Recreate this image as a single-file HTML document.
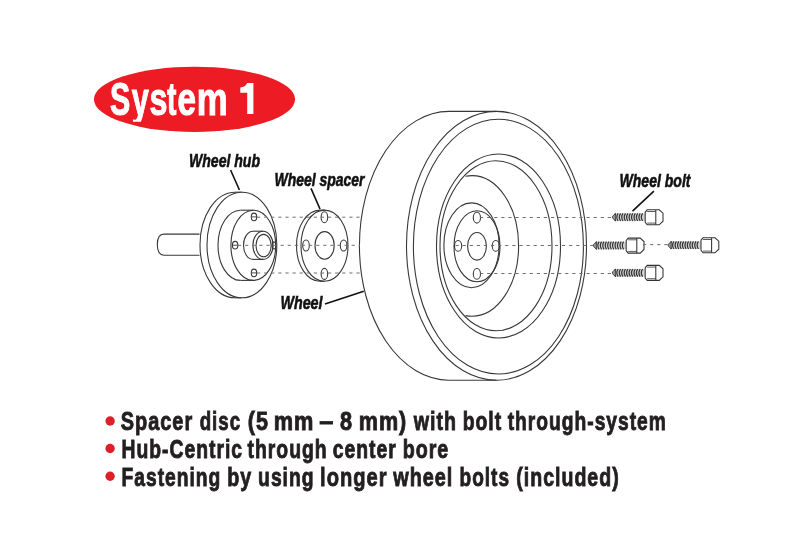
<!DOCTYPE html>
<html><head><meta charset="utf-8">
<style>
html,body{margin:0;padding:0;background:#fff;width:800px;height:533px;overflow:hidden}
svg{display:block;will-change:transform}
text{font-family:"Liberation Sans",sans-serif;font-weight:bold}
</style></head>
<body>
<svg width="800" height="533" viewBox="0 0 800 533">
<rect width="800" height="533" fill="#fff"/>
<!-- red title pill -->
<ellipse cx="194.5" cy="99.3" rx="100.6" ry="32.6" fill="#ed1c24"/>
<g fill="#fff" stroke="#fff" stroke-width="1.1" font-size="46.5"><text transform="translate(110.04 114.7) scale(0.6529 1)">S</text><text clip-path="url(#yclip)" transform="translate(131.79 114.7) scale(0.6577 1)">y</text><text transform="translate(149.38 114.7) scale(0.6948 1)">s</text><text transform="translate(166.91 114.7) scale(0.6086 1)">t</text><text transform="translate(177.55 114.7) scale(0.7144 1)">e</text><text transform="translate(196.65 114.7) scale(0.7503 1)">m</text></g>
<path fill="#fff" d="M247.2 83.1H253.4V114H247.2V92.8H240.3V87.6Q245.5 87.2 247.2 83.1Z"/>

<g fill="none" stroke="#383838" stroke-width="1.1">


<!-- shaft -->
<path d="M199.5 234.1 H164 Q157.3 234.1 157.3 244.6 Q157.3 255.2 164 255.2 H199.5"/>
<!-- hub disc -->
<path d="M235 192.2 A35 52.8 0 0 0 235 297.8" fill="#fff"/>
<line x1="235" y1="192.2" x2="241.9" y2="192.2"/>
<line x1="235" y1="297.8" x2="241.9" y2="297.8"/>
<ellipse cx="241.9" cy="245" rx="34.9" ry="52.8" fill="#fff"/>
<!-- boss -->
<path d="M240.5 210.2 A22.5 35.1 0 0 0 240.5 280.4"/>
<line x1="240.5" y1="210.2" x2="253.3" y2="210.2"/>
<line x1="240.5" y1="280.4" x2="253.3" y2="280.4"/>
<ellipse cx="253.3" cy="245.3" rx="22.4" ry="35.1"/>
<!-- center cylinder -->
<path d="M253 231.2 A9.5 14.1 0 0 0 253 259.4"/>
<line x1="253" y1="231.2" x2="263" y2="231.2"/>
<line x1="253" y1="259.4" x2="263" y2="259.4"/>
<ellipse cx="263" cy="245.3" rx="10.1" ry="14.1"/>
<ellipse cx="263.6" cy="245.6" rx="7.6" ry="11.2"/>
<!-- hub bolt holes -->
<ellipse cx="254" cy="216.9" rx="2.7" ry="3.8"/>
<ellipse cx="235.1" cy="245.2" rx="2.7" ry="3.8"/>
<ellipse cx="254" cy="272.9" rx="2.7" ry="3.8"/>
<ellipse cx="274" cy="245.5" rx="1.8" ry="3.5"/>
<path stroke-width="0.9" d="M251.8 216.9H256.2 M232.9 245.2H237.3 M251.8 272.9H256.2"/>

<!-- spacer -->
<path d="M320 210.1 A23.5 35.6 0 0 0 320 281.3" fill="#fff"/>
<line x1="320" y1="210.1" x2="324.5" y2="210.1"/>
<line x1="320" y1="281.3" x2="324.5" y2="281.3"/>
<ellipse cx="324.5" cy="245.7" rx="23.5" ry="35.6"/>
<ellipse cx="324.6" cy="245.4" rx="9.6" ry="13.8"/>
<ellipse cx="324.4" cy="217.2" rx="3.3" ry="5.5"/>
<ellipse cx="306" cy="245.5" rx="3.3" ry="5.5"/>
<ellipse cx="343.6" cy="245.5" rx="3.3" ry="5.5"/>
<ellipse cx="324.4" cy="273.9" rx="3.3" ry="5.5"/>

<!-- wheel -->
<path d="M449 111.4 A89.6 134.4 0 0 0 449 380.2"/>
<line x1="449" y1="111.4" x2="496.5" y2="111.4"/>
<line x1="449" y1="380.2" x2="496.5" y2="380.2"/>
<ellipse cx="496.5" cy="245.8" rx="90" ry="134.4"/>
<ellipse cx="498.4" cy="246.6" rx="85" ry="127.4"/>
<ellipse cx="498.5" cy="246" rx="62" ry="92"/>
<ellipse cx="496" cy="245.8" rx="56" ry="85"/>
<path d="M465.5 176.3 Q468.5 175.6 472 175.6 A46.6 70.3 0 0 1 472 316.2 Q468.5 316.2 465.5 315.6"/>
<ellipse cx="471.5" cy="245.3" rx="27.6" ry="42.4"/>
<ellipse cx="477" cy="246.3" rx="23" ry="35.5"/>
<ellipse cx="477" cy="246.3" rx="9.4" ry="13.8"/>
<ellipse cx="476.9" cy="217.7" rx="3.6" ry="5.4"/>
<ellipse cx="458.1" cy="245.9" rx="3.6" ry="5.4"/>
<ellipse cx="495.8" cy="245.9" rx="3.6" ry="5.4"/>
<ellipse cx="476.9" cy="273.9" rx="3.6" ry="5.4"/>
</g>


<defs>
<clipPath id="yclip" clipPathUnits="userSpaceOnUse"><rect x="-60" y="-60" width="120" height="67"/></clipPath>
<g id="bolt" fill="none" stroke="#333">
<rect x="-31" y="-3.8" width="31" height="7.6" fill="#d4d4d4" stroke="none"/>
<path stroke-width="1.25" d="M-29.5 -3.8Q-32.1 0 -29.5 3.8 M-27.1 -3.8Q-29.7 0 -27.1 3.8 M-24.6 -3.8Q-27.2 0 -24.6 3.8 M-22.2 -3.8Q-24.8 0 -22.2 3.8 M-19.7 -3.8Q-22.3 0 -19.7 3.8 M-17.3 -3.8Q-19.9 0 -17.3 3.8 M-14.8 -3.8Q-17.4 0 -14.8 3.8 M-12.4 -3.8Q-15.0 0 -12.4 3.8 M-9.9 -3.8Q-12.5 0 -9.9 3.8 M-7.5 -3.8Q-10.1 0 -7.5 3.8 M-5.0 -3.8Q-7.6 0 -5.0 3.8 M-2.6 -3.8Q-5.2 0 -2.6 3.8"/>
<path stroke-width="0.8" fill="#999" d="M-29.8 -3.6L-32.8 -0.9V0.9L-29.8 3.6Z"/>
<path stroke-width="1.05" fill="#fff" d="M0 -5L2 -7.4 H14 L17.8 -4 V4 L14 7.6 H2 L0 5.2 Z"/>
<path stroke-width="0.8" d="M2 -5.7H10.6 M2 5.9H10.6"/>
<path stroke-width="1.05" d="M10.6 -7.3V7.5"/>
</g>
</defs>
<use href="#bolt" x="645.2" y="217.2"/>
<use href="#bolt" x="626.2" y="245.5"/>
<use href="#bolt" x="701" y="245.2"/>
<use href="#bolt" x="645.2" y="272.8"/>

<!-- dashed guide lines -->
<g stroke="#6e6e6e" stroke-width="1" stroke-dasharray="3.2 3.9" fill="none">
<line x1="257" y1="217.2" x2="360" y2="217.2"/>
<line x1="238" y1="245.3" x2="360" y2="245.3"/>
<line x1="257" y1="273" x2="360" y2="273"/>
<line x1="480" y1="217.5" x2="612" y2="217.5"/>
<line x1="455.5" y1="245.5" x2="594" y2="245.5"/>
<line x1="480" y1="273.5" x2="612" y2="273.5"/>
<line x1="643" y1="244.6" x2="669" y2="244.6"/>
</g>
<!-- leaders -->
<g stroke="#111" stroke-width="1.6" fill="none">
<line x1="230.6" y1="170" x2="239.4" y2="190"/>
<line x1="311" y1="188.4" x2="320" y2="209"/>
<line x1="325" y1="304" x2="363.8" y2="291.2"/>
<line x1="653.9" y1="191.1" x2="632.5" y2="211.1"/>
</g>

<!-- labels -->
<g fill="#111" stroke="#111" stroke-width="0.6" font-size="18.6" font-style="italic">
<text x="189" y="167.3" textLength="71" lengthAdjust="spacingAndGlyphs">Wheel hub</text>
<text x="274.5" y="185.9" textLength="90" lengthAdjust="spacingAndGlyphs">Wheel spacer</text>
<text x="280.5" y="309.1" textLength="42" lengthAdjust="spacingAndGlyphs">Wheel</text>
<text x="619.5" y="187" textLength="71" lengthAdjust="spacingAndGlyphs">Wheel bolt</text>
</g>

<!-- bullets -->
<g fill="#dc1f2a">
<circle cx="110.1" cy="421" r="4.7"/>
<circle cx="110.1" cy="448.5" r="4.7"/>
<circle cx="110.1" cy="476.3" r="4.7"/>
</g>
<g fill="#231f20" stroke="#231f20" stroke-width="0.9" font-size="26.2">
<text transform="translate(120.70 430) scale(0.7609 1)" letter-spacing="1.314">Spacer</text>
<text transform="translate(199.70 430) scale(0.7134 1)" letter-spacing="1.402">disc</text>
<text transform="translate(247.70 430) scale(0.8245 1)" letter-spacing="1.213">(5</text>
<text transform="translate(273.70 430) scale(0.8298 1)" letter-spacing="1.205">mm</text>
<text transform="translate(319.30 430) scale(0.9679 1)" letter-spacing="1.033">–</text>
<text transform="translate(339.90 430) scale(0.8279 1)" letter-spacing="1.208">8</text>
<text transform="translate(358.70 430) scale(0.8240 1)" letter-spacing="1.214">mm)</text>
<text transform="translate(413.70 430) scale(0.7500 1)" letter-spacing="1.333">with</text>
<text transform="translate(462.70 430) scale(0.7401 1)" letter-spacing="1.351">bolt</text>
<text transform="translate(507.70 430) scale(0.7335 1)" letter-spacing="1.363">through-system</text>
<text transform="translate(121.50 458) scale(0.7376 1)" letter-spacing="1.356">Hub-Centric</text>
<text transform="translate(247.50 458) scale(0.7401 1)" letter-spacing="1.351">through</text>
<text transform="translate(332.70 458) scale(0.7381 1)" letter-spacing="1.355">center</text>
<text transform="translate(402.70 458) scale(0.7506 1)" letter-spacing="1.332">bore</text>
<text transform="translate(121.50 486) scale(0.7347 1)" letter-spacing="1.361">Fastening</text>
<text transform="translate(227.30 486) scale(0.7506 1)" letter-spacing="1.332">by</text>
<text transform="translate(258.10 486) scale(0.7367 1)" letter-spacing="1.357">using</text>
<text transform="translate(320.10 486) scale(0.7679 1)" letter-spacing="1.302">longer</text>
<text transform="translate(393.30 486) scale(0.7569 1)" letter-spacing="1.321">wheel</text>
<text transform="translate(459.50 486) scale(0.7270 1)" letter-spacing="1.375">bolts</text>
<text transform="translate(516.30 486) scale(0.7463 1)" letter-spacing="1.340">(included)</text>
</g>
</svg>
</body></html>
